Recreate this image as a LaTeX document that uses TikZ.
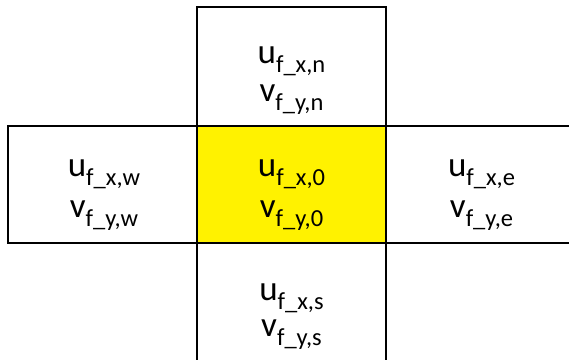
\documentclass[tikz,border=0pt]{standalone}
\usepackage{fontspec}
\setmainfont{Carlito}
\newcommand{\mysub}[1]{\raisebox{-0.26em}{\fontsize{24.5}{26}\selectfont #1}}
\newcommand{\uvar}[1]{u\mysub{f\_x,#1}}
\newcommand{\vvar}[1]{v\mysub{f\_y,#1}}
\begin{document}
\begin{tikzpicture}[x=1pt,y=-1pt,
  cellline/.style={draw=black,line width=2.2pt},
  txt/.style={anchor=base,inner sep=0pt,font=\fontsize{35}{38}\selectfont}]
\useasboundingbox (0,0) rectangle (569,359);
% center cell
\fill[yellow] (197,126) rectangle (386,243);
% top cell
\draw[cellline] (197,243) -- (197,7) -- (386,7) -- (386,243);
% left cell + horizontal lines
\draw[cellline] (570,126) -- (8,126) -- (8,243) -- (570,243);
% bottom vertical lines
\draw[cellline] (197,243) -- (197,360);
\draw[cellline] (386,243) -- (386,360);
% texts
\node[txt] (un) at (291.5,63) {\uvar{n}};
\node[txt] (vn) at (291.5,101) {\vvar{n}};
\node[txt] (uw) at (104,176) {\uvar{w}};
\node[txt] (vw) at (104,217) {\vvar{w}};
\node[txt] (u0) at (291.5,176) {\uvar{0}};
\node[txt] (v0) at (291.5,217) {\vvar{0}};
\node[txt] (ue) at (481.5,176) {\uvar{e}};
\node[txt] (ve) at (481.5,217) {\vvar{e}};
\node[txt] (us) at (291.5,300) {\uvar{s}};
\node[txt] (vs) at (291.5,336) {\vvar{s}};
\end{tikzpicture}
\end{document}
